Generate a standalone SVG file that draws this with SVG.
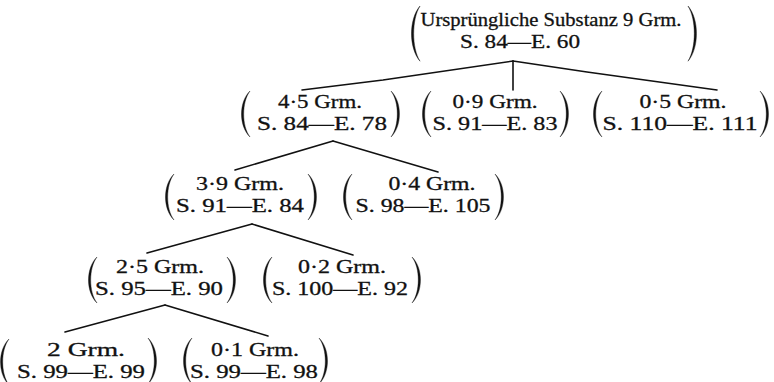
<svg xmlns="http://www.w3.org/2000/svg" xmlns:xlink="http://www.w3.org/1999/xlink" width="774" height="382" viewBox="0 0 774 382">
<style>
  text { font-family: "Liberation Serif", "Times New Roman", serif; font-size: 19.5px; fill: #111; stroke: #111; stroke-width: 0.3; text-anchor: middle; }
  .conn line, .conn polyline { stroke: #111; stroke-width: 1.6; fill: none; stroke-linecap: round; stroke-linejoin: round; }
  .par { fill: #111; stroke: #111; stroke-width: 0.4; }
</style>
<defs>
  <path id="lp" class="par" d="M9,0 C-2.33,11 -2.33,35 9,46 C0.6,35 0.6,11 9,0 Z"/>
  <path id="rp" class="par" d="M0,0 C11.33,11 11.33,35 0,46 C8.4,35 8.4,11 0,0 Z"/>
</defs>
<rect width="774" height="382" fill="#fff"/>

<g class="conn" id="connectors">
  <polyline points="302,90 383,80 513,61"/>
  <line x1="513" y1="61" x2="513" y2="90"/>
  <polyline points="513,61 587,72 717,90"/>
  <line x1="333" y1="141" x2="235" y2="170"/>
  <line x1="333" y1="141" x2="438" y2="172"/>
  <line x1="252" y1="224" x2="147" y2="253"/>
  <line x1="252" y1="224" x2="353" y2="255"/>
  <line x1="165" y1="305" x2="65" y2="332"/>
  <line x1="165" y1="305" x2="268" y2="336"/>
</g>

<g id="root">
  <use xlink:href="#lp" transform="translate(411,6) scale(1,1.2)"/>
  <use xlink:href="#rp" transform="translate(688,6) scale(1,1.2)"/>
  <text x="551" y="26" textLength="261" lengthAdjust="spacingAndGlyphs">Ursprüngliche Substanz 9 Grm.</text>
  <text x="520" y="48" textLength="120" lengthAdjust="spacingAndGlyphs">S. 84—E. 60</text>
</g>

<g id="n45">
  <use xlink:href="#lp" x="241" y="91"/>
  <use xlink:href="#rp" x="391" y="91"/>
  <text x="320" y="108" textLength="84" lengthAdjust="spacingAndGlyphs">4·5 Grm.</text>
  <text x="322" y="130" textLength="130" lengthAdjust="spacingAndGlyphs">S. 84—E. 78</text>
</g>

<g id="n09">
  <use xlink:href="#lp" x="422" y="91"/>
  <use xlink:href="#rp" x="560" y="91"/>
  <text x="495" y="108" textLength="85" lengthAdjust="spacingAndGlyphs">0·9 Grm.</text>
  <text x="495" y="130" textLength="125" lengthAdjust="spacingAndGlyphs">S. 91—E. 83</text>
</g>

<g id="n05">
  <use xlink:href="#lp" x="593" y="91"/>
  <use xlink:href="#rp" x="760" y="91"/>
  <text x="683" y="108" textLength="87" lengthAdjust="spacingAndGlyphs">0·5 Grm.</text>
  <text x="680" y="130" textLength="155" lengthAdjust="spacingAndGlyphs">S. 110—E. 111</text>
</g>

<g id="n39">
  <use xlink:href="#lp" x="165" y="174"/>
  <use xlink:href="#rp" x="308" y="174"/>
  <text x="240" y="190" textLength="88" lengthAdjust="spacingAndGlyphs">3·9 Grm.</text>
  <text x="240" y="212" textLength="128" lengthAdjust="spacingAndGlyphs">S. 91—E. 84</text>
</g>

<g id="n04">
  <use xlink:href="#lp" x="343" y="174"/>
  <use xlink:href="#rp" x="495" y="174"/>
  <text x="432" y="190" textLength="87" lengthAdjust="spacingAndGlyphs">0·4 Grm.</text>
  <text x="423" y="212" textLength="135" lengthAdjust="spacingAndGlyphs">S. 98—E. 105</text>
</g>

<g id="n25">
  <use xlink:href="#lp" x="88" y="257"/>
  <use xlink:href="#rp" x="227" y="257"/>
  <text x="160" y="273" textLength="88" lengthAdjust="spacingAndGlyphs">2·5 Grm.</text>
  <text x="159" y="295" textLength="128" lengthAdjust="spacingAndGlyphs">S. 95—E. 90</text>
</g>

<g id="n02">
  <use xlink:href="#lp" x="263" y="257"/>
  <use xlink:href="#rp" x="412" y="257"/>
  <text x="342" y="273" textLength="88" lengthAdjust="spacingAndGlyphs">0·2 Grm.</text>
  <text x="340" y="295" textLength="136" lengthAdjust="spacingAndGlyphs">S. 100—E. 92</text>
</g>

<g id="n2">
  <use xlink:href="#lp" x="0" y="339"/>
  <use xlink:href="#rp" x="148" y="338"/>
  <text x="86" y="356" textLength="78" lengthAdjust="spacingAndGlyphs">2 Grm.</text>
  <text x="81" y="378" textLength="128" lengthAdjust="spacingAndGlyphs">S. 99—E. 99</text>
</g>

<g id="n01">
  <use xlink:href="#lp" x="183" y="338"/>
  <use xlink:href="#rp" x="319" y="338"/>
  <text x="255" y="356" textLength="88" lengthAdjust="spacingAndGlyphs">0·1 Grm.</text>
  <text x="254" y="378" textLength="128" lengthAdjust="spacingAndGlyphs">S. 99—E. 98</text>
</g>
</svg>
